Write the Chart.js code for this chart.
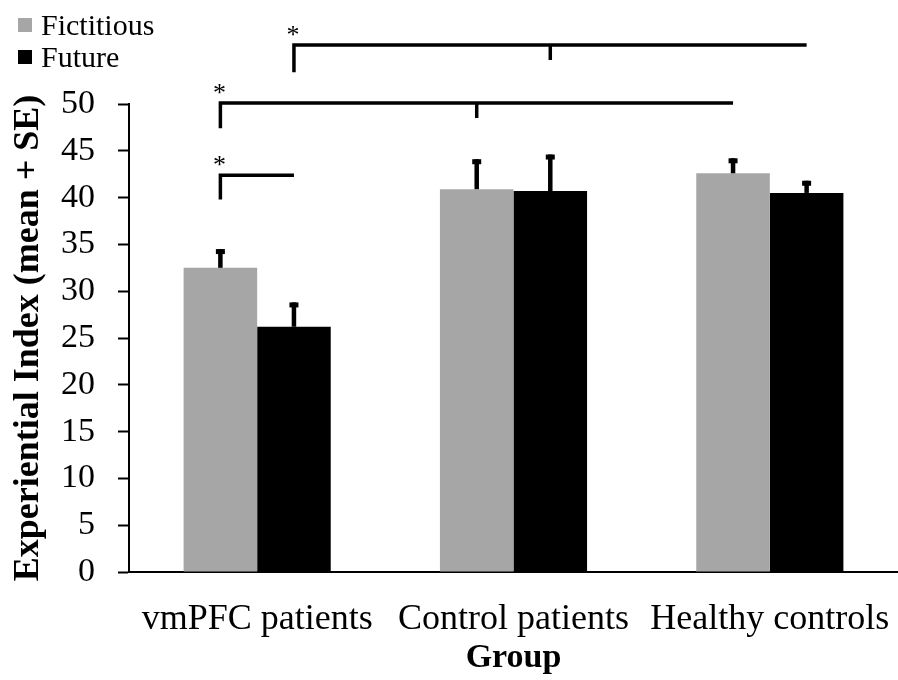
<!DOCTYPE html>
<html>
<head>
<meta charset="utf-8">
<script src="https://cdn.jsdelivr.net/npm/chart.js@4.4.1/dist/chart.umd.min.js"></script>
<style>
  body { margin: 0; background: #fff; }
</style>
</head>
<body>
<canvas id="barChart" width="898" height="680"></canvas>
<script>
var groups = ["vmPFC patients", "Control patients", "Healthy controls"];
var fictitious = [32.5, 40.9, 42.6];
var future = [26.2, 40.7, 40.5];
var fictitiousSE = [2.0, 3.2, 1.6];
var futureSE = [2.6, 3.9, 1.3];

// significance brackets: [group, dataset] ends, heights in index units
var brackets = [
  { from: [0, 1], to: [2, 1], mid: [1, 1], level: 56.3, drop: 53.4, midDrop: 54.7 },
  { from: [0, 0], to: [2, 0], mid: [1, 0], level: 50.1, drop: 47.4, midDrop: 48.5 },
  { from: [0, 0], to: [0, 1], level: 42.4, drop: 39.8 },
];

var serif = "'Liberation Serif', 'Times New Roman', serif";
var errors = [fictitiousSE, futureSE];

var errorBars = {
  id: "errorBars",
  afterDatasetsDraw: function (chart) {
    var ctx = chart.ctx;
    var y = chart.scales.y;
    ctx.save();
    ctx.fillStyle = "#000";
    chart.data.datasets.forEach(function (ds, i) {
      chart.getDatasetMeta(i).data.forEach(function (bar, j) {
        var top = y.getPixelForValue(ds.data[j] + errors[i][j]);
        ctx.fillRect(bar.x - 2.25, top, 4.5, bar.y - top);
        ctx.fillRect(bar.x - 4.5, top, 9, 5);
      });
    });
    ctx.restore();
  },
};

var sigBrackets = {
  id: "sigBrackets",
  afterDraw: function (chart) {
    var ctx = chart.ctx;
    var y = chart.scales.y;
    var px = function (p) { return chart.getDatasetMeta(p[1]).data[p[0]].x; };
    ctx.save();
    ctx.strokeStyle = "#000";
    ctx.fillStyle = "#000";
    brackets.forEach(function (b) {
      var x0 = px(b.from), x1 = px(b.to);
      var yl = y.getPixelForValue(b.level);
      ctx.lineWidth = 3.5;
      ctx.beginPath();
      ctx.moveTo(x0, y.getPixelForValue(b.drop));
      ctx.lineTo(x0, yl);
      ctx.lineTo(x1, yl);
      ctx.stroke();
      if (b.mid) {
        var xm = px(b.mid);
        ctx.beginPath();
        ctx.moveTo(xm, yl);
        ctx.lineTo(xm, y.getPixelForValue(b.midDrop));
        ctx.stroke();
      }
      ctx.font = "26px " + serif;
      ctx.textAlign = "center";
      ctx.textBaseline = "alphabetic";
      ctx.fillText("*", x0 - 1, yl - 2);
    });
    ctx.restore();
  },
};

var cornerLegend = {
  id: "cornerLegend",
  afterDraw: function (chart) {
    var ctx = chart.ctx;
    ctx.save();
    ctx.font = "30px " + serif;
    ctx.textBaseline = "alphabetic";
    ctx.textAlign = "left";
    chart.data.datasets.forEach(function (ds, i) {
      var base = 35 + i * 32;
      ctx.fillStyle = ds.backgroundColor;
      ctx.fillRect(18, base - 17, 14, 14);
      ctx.fillStyle = "#000";
      ctx.fillText(ds.label, 41, base);
    });
    ctx.restore();
  },
};

var ctx = document.getElementById("barChart").getContext("2d");
var myChart = new Chart(ctx, {
  type: "bar",
  data: {
    labels: groups,
    datasets: [
      {
        label: "Fictitious",
        data: fictitious,
        backgroundColor: "#a6a6a6",
        borderWidth: 0,
      },
      {
        label: "Future",
        data: future,
        backgroundColor: "#000000",
        borderWidth: 0,
      },
    ],
  },
  options: {
    responsive: false,
    animation: false,
    layout: { padding: { top: 104, right: 0, left: 0, bottom: 0 } },
    datasets: {
      bar: { categoryPercentage: 0.574, barPercentage: 1.0 },
    },
    plugins: {
      legend: { display: false },
      tooltip: { enabled: false },
    },
    scales: {
      x: {
        afterFit: function (scale) {
          scale.height = 108;
          scale.paddingLeft = 0;
          scale.paddingRight = 0;
        },
        grid: { display: false, drawTicks: false },
        border: { display: true, color: "#000", width: 2 },
        ticks: {
          color: "#000",
          padding: 26,
          font: { family: serif, size: 36 },
        },
        title: {
          display: true,
          text: "Group",
          color: "#000",
          padding: { top: 0, bottom: 1 },
          font: { family: serif, size: 34, weight: "bold" },
        },
      },
      y: {
        min: 0,
        max: 50,
        afterFit: function (scale) { scale.width = 129; },
        grid: {
          drawOnChartArea: false,
          drawTicks: true,
          tickLength: 11,
          tickWidth: 2,
          tickColor: "#000",
        },
        border: { display: true, color: "#000", width: 2 },
        ticks: {
          stepSize: 5,
          color: "#000",
          padding: 23,
          font: { family: serif, size: 34 },
        },
        title: {
          display: true,
          text: "Experiential Index (mean + SE)",
          color: "#000",
          padding: { top: 7, bottom: 0 },
          font: { family: serif, size: 36, weight: "bold" },
        },
      },
    },
  },
  plugins: [errorBars, sigBrackets, cornerLegend],
});
</script>
</body>
</html>
